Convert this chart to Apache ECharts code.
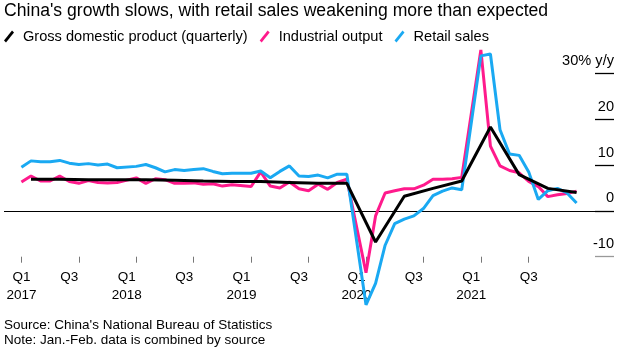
<!DOCTYPE html>
<html>
<head>
<meta charset="utf-8">
<script src="https://cdn.jsdelivr.net/npm/echarts@6/dist/echarts.min.js"></script>
<style>
  html, body { margin: 0; padding: 0; background: #fff; }
  #chart { width: 627px; height: 347px; }
</style>
</head>
<body>
<div id="chart"></div>
<script>
// Years covered; Jan.-Feb. figures are released together and shown in February
const years = [2017, 2018, 2019, 2020, 2021];
const reportMonths = [2, 3, 4, 5, 6, 7, 8, 9, 10, 11, 12];
const quarterEndMonths = [3, 6, 9, 12];

// Industrial output, % y/y (Feb..Dec per year)
const industrialOutput = [
  6.3, 7.6, 6.5, 6.5, 7.6, 6.4, 6.0, 6.6, 6.2, 6.1, 6.2,
  7.2, 6.0, 7.0, 6.8, 6.0, 6.0, 6.1, 5.8, 5.9, 5.4, 5.7,
  5.3, 8.5, 5.4, 5.0, 6.3, 4.8, 4.4, 5.8, 4.7, 6.2, 6.9,
  -13.5, -1.1, 3.9, 4.4, 4.8, 4.8, 5.6, 6.9, 6.9, 7.0, 7.3,
  35.1, 14.1, 9.8, 8.8, 8.3, 6.4, 5.3, 3.1, 3.5, 3.8, 4.3
];

// Retail sales, % y/y (Feb..Dec per year)
const retailSales = [
  9.5, 10.9, 10.7, 10.7, 11.0, 10.4, 10.1, 10.3, 10.0, 10.2, 9.4,
  9.7, 10.1, 9.4, 8.5, 9.0, 8.8, 9.0, 9.2, 8.6, 8.1, 8.2,
  8.2, 8.7, 7.2, 8.6, 9.8, 7.6, 7.5, 7.8, 7.2, 8.0, 8.0,
  -20.5, -15.8, -7.5, -2.8, -1.8, -1.1, 0.5, 3.3, 4.3, 5.0, 4.6,
  33.8, 34.2, 17.7, 12.4, 12.1, 8.5, 2.5, 4.4, 4.9, 3.9, 1.7
];

// Gross domestic product, % y/y (Q1..Q4 per year)
const gdpQuarterly = [
  6.9, 6.9, 6.8, 6.8,
  6.8, 6.7, 6.5, 6.4,
  6.4, 6.2, 6.0, 6.0,
  -6.8, 3.2, 4.9, 6.5,
  18.3, 7.9, 4.9, 4.0
];

// X-axis ticks: [year, month] of each tick and its text
const xTickDates = [[2017, 2], [2017, 7], [2018, 1], [2018, 7], [2019, 1], [2019, 7], [2020, 1], [2020, 7], [2021, 1], [2021, 7]];
const xTickLabels = ['Q1\n2017', 'Q3', 'Q1\n2018', 'Q3', 'Q1\n2019', 'Q3', 'Q1\n2020', 'Q3', 'Q1\n2021', 'Q3'];

// Y-axis labels
const yTickValues = [30, 20, 10, 0, -10];
const yTickLabels = ['30% y/y', '20', '10', '0', '-10'];

// Month index counted from January 2017
const monthIndex = (y, m) => (y - 2017) * 12 + (m - 1);

const monthlyX = [];
years.forEach(y => reportMonths.forEach(m => monthlyX.push(monthIndex(y, m))));
const quarterlyX = [];
years.forEach(y => quarterEndMonths.forEach(m => quarterlyX.push(monthIndex(y, m))));

const pair = (xs, vs) => vs.map((v, i) => [xs[i], v]);
const xTickPositions = xTickDates.map(d => monthIndex(d[0], d[1]));

// Plot-area geometry (px) and the month range it spans
const PLOT_LEFT = 4, PLOT_RIGHT_EDGE = 614, CHART_W = 627;
const X_MIN = -0.82, X_MAX = 62.91;
const pxOf = m => PLOT_LEFT + (m - X_MIN) / (X_MAX - X_MIN) * (PLOT_RIGHT_EDGE - PLOT_LEFT);
const firstTick = xTickPositions[0];
const lastTick = xTickPositions[xTickPositions.length - 1];

const FONT = '"Liberation Sans", Arial, Helvetica, sans-serif';
const PINK = '#ff1a8c';
const BLUE = '#1aa9f2';

const chart = echarts.init(document.getElementById('chart'), null, { renderer: 'canvas' });

chart.setOption({
  animation: false,
  backgroundColor: '#fff',
  textStyle: { fontFamily: FONT },
  title: {
    text: "China's growth slows, with retail sales weakening more than expected",
    left: 4,
    top: 2,
    padding: 0,
    textStyle: { fontSize: 17.6, fontWeight: 'normal', color: '#000', fontFamily: FONT }
  },
  legend: {
    left: 4,
    top: 29,
    padding: 0,
    itemWidth: 12,
    itemHeight: 12,
    itemGap: 12,
    icon: 'path://M0,10L8,0L10,2L2,12Z',
    textStyle: { fontSize: 14.6, color: '#000', fontFamily: FONT, padding: [0, 0, 0, 3] },
    data: ['Gross domestic product (quarterly)', 'Industrial output', 'Retail sales']
  },
  grid: [
    // plot area
    { left: PLOT_LEFT, right: CHART_W - PLOT_RIGHT_EDGE, top: 27.45, bottom: 90.3, containLabel: false },
    // narrow strip holding the short value-line ticks at the right edge
    { left: 595, right: CHART_W - PLOT_RIGHT_EDGE, top: 73.3, bottom: 90.3, containLabel: false },
    // thin strip under the plot holding the quarter tick marks
    { left: pxOf(firstTick), right: CHART_W - pxOf(lastTick), top: 256.7, bottom: 84.3, containLabel: false }
  ],
  xAxis: [
    {
      type: 'value',
      gridIndex: 0,
      min: X_MIN,
      max: X_MAX,
      axisLine: { show: false },
      splitLine: { show: false },
      axisTick: { show: false },
      axisLabel: {
        customValues: xTickPositions,
        formatter: v => xTickLabels[xTickPositions.indexOf(v)] || '',
        margin: 12,
        fontSize: 13.5,
        lineHeight: 18,
        color: '#000',
        fontFamily: FONT
      }
    },
    {
      type: 'value',
      gridIndex: 1,
      min: 0,
      max: 1,
      show: false
    },
    {
      type: 'value',
      gridIndex: 2,
      min: firstTick,
      max: lastTick,
      interval: 6,
      axisLine: { show: false },
      axisTick: { show: false },
      axisLabel: { show: false },
      splitLine: { show: true, lineStyle: { color: '#777', width: 1 } }
    }
  ],
  yAxis: [
    {
      type: 'value',
      gridIndex: 0,
      position: 'right',
      min: -10,
      max: 40,
      interval: 10,
      axisLine: { show: false },
      splitLine: { show: false },
      axisTick: { show: false },
      axisLabel: {
        inside: true,
        margin: 0,
        customValues: yTickValues,
        formatter: v => yTickLabels[yTickValues.indexOf(v)] || '',
        fontSize: 14.6,
        color: '#000',
        fontFamily: FONT,
        verticalAlign: 'bottom',
        padding: [0, 0, 5, 0]
      }
    },
    {
      type: 'value',
      gridIndex: 1,
      position: 'right',
      min: -10,
      max: 30,
      interval: 10,
      axisLine: { show: false },
      axisTick: { show: false },
      axisLabel: { show: false },
      splitLine: {
        show: true,
        // -10, 0, 10, 20, 30
        lineStyle: { color: ['#999', '#000', '#000', '#000', '#000'], width: 1.3 }
      }
    },
    {
      type: 'value',
      gridIndex: 2,
      min: 0,
      max: 1,
      show: false
    }
  ],
  series: [
    {
      name: 'Industrial output',
      type: 'line',
      data: pair(monthlyX, industrialOutput),
      symbol: 'none',
      clip: false,
      color: PINK,
      lineStyle: { color: PINK, width: 3 },
      z: 2
    },
    {
      name: 'Retail sales',
      type: 'line',
      data: pair(monthlyX, retailSales),
      symbol: 'none',
      clip: false,
      color: BLUE,
      lineStyle: { color: BLUE, width: 3 },
      z: 3
    },
    {
      name: 'Gross domestic product (quarterly)',
      type: 'line',
      data: pair(quarterlyX, gdpQuarterly),
      symbol: 'none',
      clip: false,
      color: '#000',
      lineStyle: { color: '#000', width: 3 },
      z: 4,
      markLine: {
        silent: true,
        symbol: 'none',
        label: { show: false },
        lineStyle: { color: '#000', width: 1, type: 'solid' },
        data: [{ yAxis: 0 }],
        z: 1
      }
    }
  ],
  graphic: [
    {
      type: 'text',
      left: 4,
      top: 318,
      style: {
        text: "Source: China's National Bureau of Statistics\nNote: Jan.-Feb. data is combined by source",
        fontSize: 13.5,
        lineHeight: 15,
        fill: '#000',
        fontFamily: FONT
      }
    }
  ]
});
</script>
</body>
</html>
